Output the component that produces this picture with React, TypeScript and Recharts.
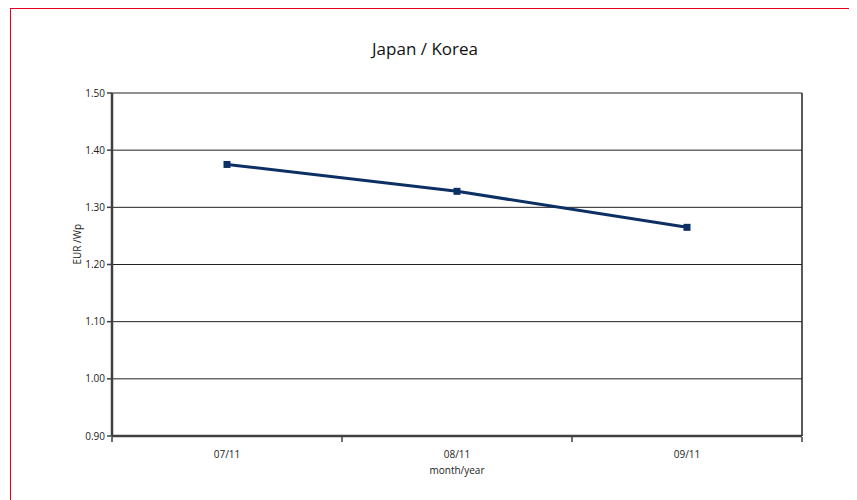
import { CartesianGrid, Line, LineChart, XAxis, YAxis } from 'recharts'

const months = ['07/11', '08/11', '09/11']
const prices = [1.375, 1.328, 1.265]
const yTicks = [0.9, 1.0, 1.1, 1.2, 1.3, 1.4, 1.5]
const bandEdges = [0, 1, 2, 3]

const FONT = '"Open Sans", "DejaVu Sans", sans-serif'
const NAVY = '#0c3064'
const AXIS = '#404040'

const SquareDot = (props: any) => {
	const { cx, cy } = props
	if (cx == null || cy == null) return null
	return <rect x={cx - 3.5} y={cy - 3.5} width={7} height={7} fill={NAVY} />
}

const App = () => {
	const data = months.map((m, i) => ({ month: m, price: prices[i], edge: i }))
	return <div style={{ position: 'relative', marginLeft: 2, width: 842, height: 520, border: '1px solid #e8001c', fontFamily: FONT }}>
		<div style={{ position: 'absolute', left: 0, width: 828, top: 28, textAlign: 'center', fontSize: 17, color: '#111' }}>
			Japan / Korea
		</div>
		<LineChart width={842} height={520} data={data} margin={{ top: 84, right: 50, bottom: 91, left: 41 }}>
			<CartesianGrid vertical={false} stroke='#222' strokeWidth={1} />
			<XAxis
				dataKey='month'
				padding={{ left: 115, right: 115 }}
				axisLine={{ stroke: AXIS, strokeWidth: 2.5 }}
				tickLine={false}
				tick={{ fontSize: 10, fill: '#222', fontFamily: FONT }}
				tickMargin={9}
				height={1}
				label={{ value: 'month/year', position: 'bottom', offset: 30, fontSize: 10, fill: '#222', fontFamily: FONT }}
			/>
			<XAxis
				xAxisId='edges'
				dataKey='edge'
				type='number'
				domain={[0, 3]}
				ticks={bandEdges}
				tickFormatter={() => ''}
				axisLine={false}
				tickLine={{ stroke: AXIS, strokeWidth: 1.5 }}
				tickSize={5}
				height={1}
			/>
			<YAxis
				domain={[0.9, 1.5]}
				ticks={yTicks}
				tickFormatter={(v: number) => v.toFixed(2)}
				axisLine={{ stroke: AXIS, strokeWidth: 2.5 }}
				tickLine={{ stroke: AXIS, strokeWidth: 1.5 }}
				tickSize={5}
				tick={{ fontSize: 10, fill: '#222', fontFamily: FONT }}
				width={60}
				label={{ value: 'EUR /Wp', angle: -90, position: 'insideLeft', offset: 25, fontSize: 10, fill: '#222', fontFamily: FONT }}
			/>
			<YAxis
				yAxisId='right'
				orientation='right'
				dataKey='price'
				domain={[0.9, 1.5]}
				axisLine={{ stroke: '#222', strokeWidth: 1.5 }}
				tick={false}
				tickLine={false}
				width={1}
			/>
			<Line
				dataKey='price'
				stroke={NAVY}
				strokeWidth={3}
				dot={<SquareDot />}
				activeDot={false}
				isAnimationActive={false}
			/>
		</LineChart>
	</div>
}

export default App
